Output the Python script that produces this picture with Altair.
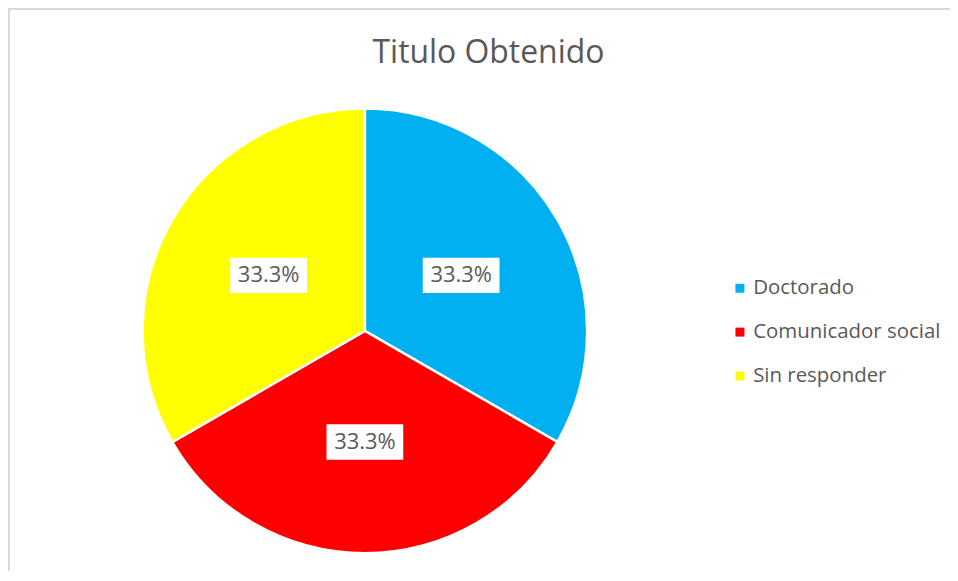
import altair as alt
import pandas as pd

# Data
categorias = ["Doctorado", "Comunicador social", "Sin responder"]
valores = [1, 1, 1]
colores = ["#00B0F0", "#FF0000", "#FFFF00"]
titulo = "Titulo Obtenido"

df = pd.DataFrame({
    "categoria": categorias,
    "valor": valores,
    "idx": list(range(len(categorias))),
})

W, H = 945, 564
CX, CY, R = 358, 323, 223
FONT = "Open Sans"
GREY = "#595959"

base = alt.Chart(df)

arcs = base.mark_arc(outerRadius=R, stroke="white", strokeWidth=2.5).encode(
    x=alt.value(CX),
    y=alt.value(CY),
    theta=alt.Theta("valor:Q", stack=True),
    color=alt.Color(
        "categoria:N",
        scale=alt.Scale(domain=categorias, range=colores),
        sort=categorias,
        legend=alt.Legend(
            title=None,
            orient="none",
            legendX=724,
            legendY=270,
            symbolType="square",
            symbolSize=81,
            symbolStrokeWidth=0,
            labelFont=FONT,
            labelFontSize=20.5,
            labelColor=GREY,
            labelOffset=3,
            labelLimit=400,
            rowPadding=23,
            padding=0,
        ),
    ),
    order=alt.Order("idx:Q"),
)

lab = base.transform_joinaggregate(
    total="sum(valor)"
).transform_window(
    cum="sum(valor)", sort=[alt.SortField("idx")], frame=[None, 0]
).transform_calculate(
    mid="(datum.cum - datum.valor/2) / datum.total * 2 * PI",
    lx="0.5 * sin(datum.mid)",
    ly="0.5 * cos(datum.mid)",
    pct="datum.valor / datum.total",
)

xs = alt.X("lx:Q", scale=alt.Scale(domain=[-1, 1], range=[CX - R, CX + R]), axis=None)
ys = alt.Y("ly:Q", scale=alt.Scale(domain=[-1, 1], range=[CY + R, CY - R]), axis=None)

boxes = lab.mark_point(
    shape="M-1,-0.46L1,-0.46L1,0.46L-1,0.46Z",
    size=5929,
    filled=True,
    color="white",
    opacity=1,
    strokeWidth=0,
).encode(x=xs, y=ys)

texts = lab.mark_text(font=FONT, fontSize=22, color=GREY, baseline="middle", align="center").encode(
    x=xs, y=ys, text=alt.Text("pct:Q", format=".1%")
)

title_mark = alt.Chart(pd.DataFrame({"t": [titulo]})).mark_text(
    font=FONT, fontSize=32, color=GREY, align="center", baseline="middle"
).encode(x=alt.value(482), y=alt.value(44), text="t:N")

frame_left = base.mark_rule(color="#d9d9d9", strokeWidth=2).encode(
    x=alt.value(1), y=alt.value(0), y2=alt.value(H)
)
frame_top = base.mark_rule(color="#d9d9d9", strokeWidth=2).encode(
    x=alt.value(0), x2=alt.value(W), y=alt.value(0)
)

chart = alt.layer(frame_left, frame_top, arcs, boxes, texts, title_mark).properties(
    width=W, height=H, padding=0, background="white",
    autosize=alt.AutoSizeParams(type="none"),
).configure_view(stroke=None)

chart.save("out.html", embed_options={"renderer": "svg", "actions": False})
